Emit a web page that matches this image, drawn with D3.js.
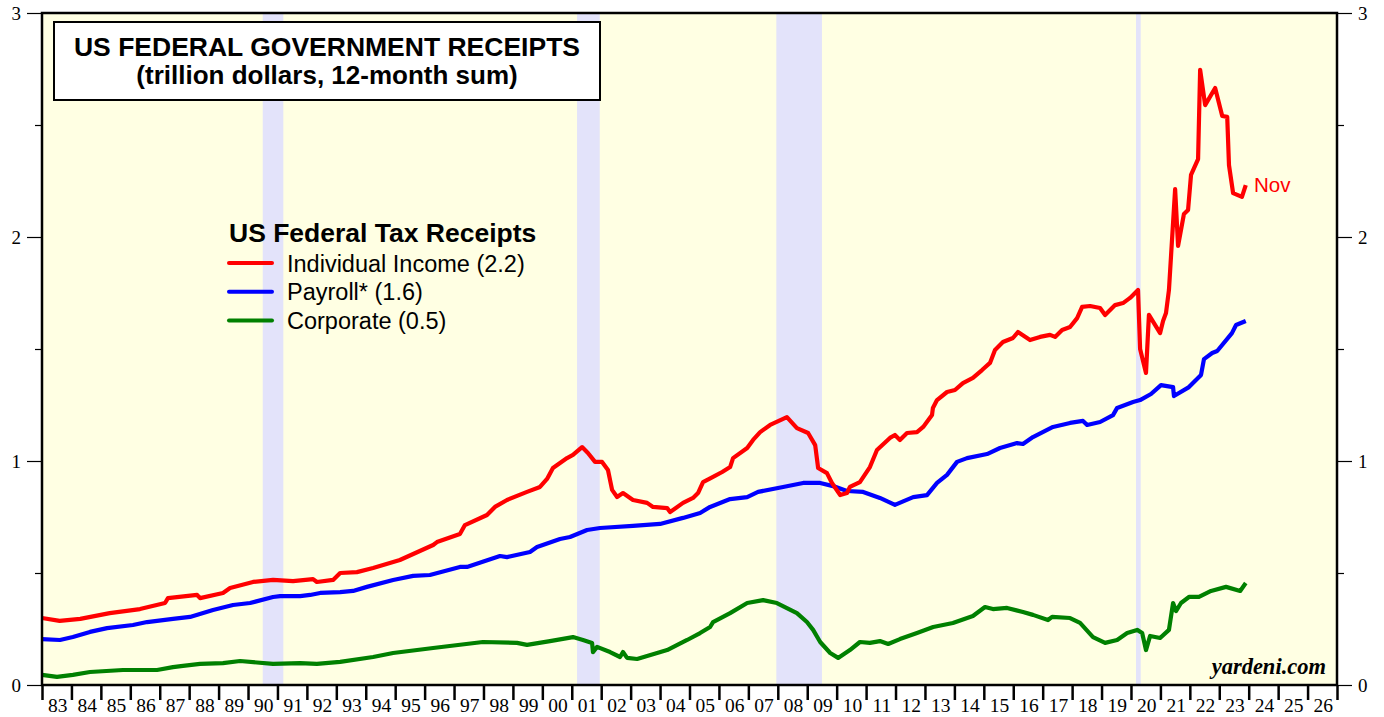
<!DOCTYPE html>
<html>
<head>
<meta charset="utf-8">
<script src="https://cdn.jsdelivr.net/npm/d3@7"></script>
<style>
  body { margin: 0; background: #fff; }
  svg { display: block; }
</style>
</head>
<body>
<div id="chart"></div>
<script>
// values: [year, trillion $]
var individual = [
  [1983.0, 0.299], [1983.6, 0.286], [1984.3, 0.295], [1985.3, 0.321], [1986.33, 0.339],
  [1987.18, 0.366], [1987.28, 0.388], [1988.27, 0.402], [1988.37, 0.388], [1989.15, 0.411],
  [1989.39, 0.433], [1990.17, 0.460], [1990.85, 0.469], [1991.53, 0.464], [1992.21, 0.473],
  [1992.34, 0.460], [1992.89, 0.469], [1993.13, 0.500], [1993.70, 0.504], [1994.25, 0.522],
  [1995.16, 0.558], [1996.29, 0.625], [1996.42, 0.638], [1997.20, 0.674], [1997.37, 0.714],
  [1998.12, 0.759], [1998.39, 0.795], [1998.80, 0.826], [1999.48, 0.862], [1999.92, 0.884],
  [2000.16, 0.920], [2000.36, 0.969], [2000.84, 1.013], [2001.04, 1.027], [2001.35, 1.062],
  [2001.55, 1.036], [2001.79, 0.996], [2002.03, 0.996], [2002.23, 0.960], [2002.37, 0.871],
  [2002.54, 0.839], [2002.74, 0.857], [2003.08, 0.826], [2003.56, 0.813], [2003.76, 0.795],
  [2004.24, 0.790], [2004.34, 0.772], [2004.78, 0.813], [2005.12, 0.835], [2005.29, 0.857],
  [2005.46, 0.906], [2005.80, 0.929], [2006.11, 0.951], [2006.38, 0.973], [2006.48, 1.013],
  [2006.96, 1.058], [2007.16, 1.094], [2007.40, 1.129], [2007.74, 1.161], [2008.31, 1.196],
  [2008.65, 1.147], [2009.03, 1.125], [2009.27, 1.071], [2009.37, 0.969], [2009.67, 0.946],
  [2009.84, 0.902], [2010.12, 0.848], [2010.35, 0.857], [2010.45, 0.884], [2010.79, 0.906],
  [2011.13, 0.973], [2011.37, 1.049], [2011.81, 1.103], [2011.98, 1.116], [2012.15, 1.094],
  [2012.39, 1.125], [2012.73, 1.129], [2012.94, 1.152], [2013.24, 1.205], [2013.27, 1.237],
  [2013.41, 1.272], [2013.75, 1.308], [2014.02, 1.317], [2014.29, 1.348], [2014.63, 1.371],
  [2014.94, 1.406], [2015.21, 1.438], [2015.38, 1.496], [2015.65, 1.531], [2015.99, 1.549],
  [2016.16, 1.576], [2016.57, 1.540], [2016.91, 1.554], [2017.25, 1.563], [2017.42, 1.554],
  [2017.66, 1.585], [2017.93, 1.598], [2018.17, 1.638], [2018.34, 1.688], [2018.61, 1.692],
  [2018.95, 1.683], [2019.12, 1.652], [2019.46, 1.696], [2019.73, 1.705], [2019.97, 1.728],
  [2020.24, 1.763], [2020.31, 1.500], [2020.51, 1.393], [2020.61, 1.652], [2020.99, 1.571],
  [2021.09, 1.625], [2021.19, 1.661], [2021.29, 1.763], [2021.50, 2.214], [2021.60, 1.960],
  [2021.80, 2.103], [2021.94, 2.121], [2022.04, 2.277], [2022.28, 2.348], [2022.35, 2.746],
  [2022.52, 2.589], [2022.86, 2.665], [2023.10, 2.540], [2023.27, 2.536], [2023.33, 2.321],
  [2023.47, 2.196], [2023.77, 2.179], [2023.90, 2.232]
];

var payroll = [
  [1983.0, 0.205], [1983.61, 0.201], [1984.05, 0.214], [1984.63, 0.237], [1985.21, 0.254],
  [1986.09, 0.268], [1986.57, 0.281], [1987.45, 0.295], [1988.03, 0.304], [1988.81, 0.335],
  [1989.49, 0.357], [1990.07, 0.366], [1990.85, 0.393], [1991.09, 0.397], [1991.77, 0.397],
  [1992.11, 0.402], [1992.45, 0.411], [1993.13, 0.415], [1993.57, 0.420], [1994.04, 0.438],
  [1994.93, 0.469], [1995.61, 0.487], [1996.18, 0.491], [1997.20, 0.527], [1997.44, 0.527],
  [1998.56, 0.576], [1998.80, 0.571], [1999.58, 0.594], [1999.82, 0.616], [2000.60, 0.652],
  [2000.94, 0.661], [2001.52, 0.692], [2001.96, 0.701], [2003.08, 0.710], [2004.00, 0.719],
  [2004.78, 0.746], [2005.36, 0.768], [2005.70, 0.795], [2006.38, 0.830], [2006.96, 0.839],
  [2007.33, 0.862], [2008.18, 0.884], [2008.86, 0.902], [2009.44, 0.902], [2009.88, 0.888],
  [2010.35, 0.866], [2010.90, 0.862], [2011.47, 0.835], [2011.98, 0.804], [2012.60, 0.839],
  [2013.07, 0.848], [2013.41, 0.902], [2013.75, 0.938], [2014.09, 0.996], [2014.43, 1.013],
  [2015.11, 1.031], [2015.55, 1.058], [2016.13, 1.080], [2016.33, 1.076], [2016.67, 1.107],
  [2017.35, 1.152], [2017.93, 1.170], [2018.37, 1.179], [2018.51, 1.161], [2018.95, 1.174],
  [2019.39, 1.205], [2019.53, 1.237], [2020.07, 1.263], [2020.31, 1.272], [2020.68, 1.299],
  [2021.02, 1.339], [2021.43, 1.330], [2021.46, 1.290], [2021.97, 1.330], [2022.38, 1.384],
  [2022.48, 1.455], [2022.76, 1.482], [2022.93, 1.491], [2023.43, 1.571], [2023.57, 1.607],
  [2023.90, 1.625]
];

var corporate = [
  [1983.0, 0.045], [1983.51, 0.036], [1984.05, 0.045], [1984.63, 0.058], [1985.75, 0.067],
  [1986.91, 0.067], [1987.45, 0.080], [1987.79, 0.085], [1988.37, 0.094], [1989.15, 0.098],
  [1989.73, 0.107], [1990.85, 0.094], [1991.77, 0.098], [1992.34, 0.094], [1993.13, 0.103],
  [1994.25, 0.125], [1994.93, 0.143], [1996.29, 0.165], [1997.98, 0.192], [1999.14, 0.188],
  [1999.48, 0.179], [2000.26, 0.196], [2001.04, 0.214], [2001.38, 0.201], [2001.69, 0.188],
  [2001.72, 0.147], [2001.86, 0.170], [2002.30, 0.147], [2002.64, 0.125], [2002.74, 0.147],
  [2002.88, 0.121], [2003.22, 0.116], [2004.24, 0.156], [2004.92, 0.201], [2005.36, 0.232],
  [2005.70, 0.259], [2005.80, 0.281], [2006.38, 0.321], [2006.96, 0.366], [2007.50, 0.379],
  [2007.97, 0.366], [2008.65, 0.321], [2008.99, 0.281], [2009.20, 0.246], [2009.44, 0.192],
  [2009.78, 0.143], [2010.05, 0.121], [2010.45, 0.156], [2010.79, 0.192], [2011.13, 0.188],
  [2011.47, 0.196], [2011.75, 0.183], [2012.15, 0.205], [2012.73, 0.232], [2013.28, 0.259],
  [2013.95, 0.277], [2014.63, 0.308], [2015.04, 0.348], [2015.31, 0.339], [2015.79, 0.344],
  [2016.33, 0.326], [2016.67, 0.313], [2017.18, 0.290], [2017.32, 0.304], [2017.93, 0.299],
  [2018.27, 0.277], [2018.71, 0.214], [2019.12, 0.188], [2019.53, 0.201], [2019.87, 0.232],
  [2020.21, 0.246], [2020.38, 0.232], [2020.51, 0.156], [2020.65, 0.219], [2020.99, 0.210],
  [2021.29, 0.246], [2021.43, 0.366], [2021.53, 0.330], [2021.70, 0.366], [2021.97, 0.393],
  [2022.31, 0.393], [2022.72, 0.420], [2023.23, 0.438], [2023.71, 0.420], [2023.90, 0.455]
];

var recessions = [[1990.5, 1991.2], [2001.18, 2001.95], [2007.95, 2009.5], [2020.17, 2020.33]];

var yearTicks = d3.range(1983, 2028);
var yMajor = [0, 1, 2, 3];
var yMinor = [0.5, 1.5, 2.5];

var legendLabels = ["Individual Income (2.2)", "Payroll* (1.6)", "Corporate (0.5)"];
var legendColors = ["#ff0000", "#0000ff", "#008000"];

var W = 1384, H = 717;
var plotL = 42, plotR = 1337, plotT = 13, plotB = 685;
var sans = "Liberation Sans, Arial, sans-serif";
var serif = "Liberation Serif, Times New Roman, serif";

var svg = d3.select("#chart").append("svg")
    .attr("width", W)
    .attr("height", H);

var x = d3.scaleLinear().domain([1983, 2027]).range([plotL, plotR]);
var y = d3.scaleLinear().domain([0, 3]).range([plotB, plotT]);

// plot background
svg.append("rect")
    .attr("x", plotL).attr("y", plotT)
    .attr("width", plotR - plotL).attr("height", plotB - plotT)
    .attr("fill", "#ffffe3");

svg.selectAll("rect.rec")
    .data(recessions)
  .enter().append("rect")
    .attr("class", "rec")
    .attr("x", function(d) { return x(d[0]); })
    .attr("y", plotT)
    .attr("width", function(d) { return x(d[1]) - x(d[0]); })
    .attr("height", plotB - plotT)
    .attr("fill", "#e3e3fa");

// title box
svg.append("rect")
    .attr("x", 54).attr("y", 22)
    .attr("width", 546).attr("height", 78)
    .attr("fill", "#fff")
    .attr("stroke", "#000")
    .attr("stroke-width", 2);

svg.append("text")
    .attr("x", 327).attr("y", 56)
    .attr("text-anchor", "middle")
    .style("font-family", sans)
    .style("font-weight", "bold")
    .style("font-size", "26.5px")
    .text("US FEDERAL GOVERNMENT RECEIPTS");

svg.append("text")
    .attr("x", 327).attr("y", 84)
    .attr("text-anchor", "middle")
    .style("font-family", sans)
    .style("font-weight", "bold")
    .style("font-size", "26px")
    .text("(trillion dollars, 12-month sum)");

// series
var line = d3.line()
    .x(function(d) { return x(d[0]); })
    .y(function(d) { return y(d[1]); });

[corporate, payroll, individual].forEach(function(s, i) {
  svg.append("path")
      .datum(s)
      .attr("d", line)
      .attr("fill", "none")
      .attr("stroke", legendColors[2 - i])
      .attr("stroke-width", 4.2)
      .attr("stroke-linejoin", "round");
});

svg.append("text")
    .attr("x", 1254).attr("y", 192)
    .attr("fill", "#ff0000")
    .style("font-family", sans)
    .style("font-size", "20.5px")
    .text("Nov");

// legend
var lg = svg.append("g");
lg.append("text")
    .attr("x", 229).attr("y", 242)
    .style("font-family", sans)
    .style("font-weight", "bold")
    .style("font-size", "26.5px")
    .text("US Federal Tax Receipts");

legendLabels.forEach(function(lbl, i) {
  var ly = 263 + i * 28.7;
  lg.append("line")
      .attr("x1", 229).attr("x2", 272)
      .attr("y1", ly).attr("y2", ly)
      .attr("stroke", legendColors[i])
      .attr("stroke-width", 4)
      .attr("stroke-linecap", "round");
  lg.append("text")
      .attr("x", 287).attr("y", ly + 8.5)
      .style("font-family", sans)
      .style("font-size", "23.5px")
      .text(lbl);
});

svg.append("text")
    .attr("x", 1326).attr("y", 674)
    .attr("text-anchor", "end")
    .style("font-family", serif)
    .style("font-weight", "bold")
    .style("font-style", "italic")
    .style("font-size", "22.5px")
    .text("yardeni.com");

// frame
svg.append("rect")
    .attr("x", plotL).attr("y", plotT)
    .attr("width", plotR - plotL).attr("height", plotB - plotT)
    .attr("fill", "none")
    .attr("stroke", "#000")
    .attr("stroke-width", 2.5);

// axes
var yLeft = d3.axisLeft(y).tickValues(yMajor).tickSize(15).tickPadding(6).tickFormat(d3.format("d"));
var yRight = d3.axisRight(y).tickValues(yMajor).tickSize(15).tickPadding(6).tickFormat(d3.format("d"));

var gl = svg.append("g").attr("transform", "translate(" + plotL + ",0)").call(yLeft);
var gr = svg.append("g").attr("transform", "translate(" + plotR + ",0)").call(yRight);
[gl, gr].forEach(function(g) {
  g.select(".domain").remove();
  g.selectAll("line").attr("stroke", "#000").attr("stroke-width", 1.2);
  g.selectAll("text").style("font-family", serif).style("font-size", "19px").attr("fill", "#000");
});

var gl2 = svg.append("g").attr("transform", "translate(" + plotL + ",0)")
    .call(d3.axisLeft(y).tickValues(yMinor).tickSize(7).tickFormat(""));
var gr2 = svg.append("g").attr("transform", "translate(" + plotR + ",0)")
    .call(d3.axisRight(y).tickValues(yMinor).tickSize(7).tickFormat(""));
[gl2, gr2].forEach(function(g) {
  g.select(".domain").remove();
  g.selectAll("line").attr("stroke", "#000").attr("stroke-width", 1.2);
});

var gx = svg.append("g").attr("transform", "translate(0," + plotB + ")")
    .call(d3.axisBottom(x).tickValues(yearTicks).tickSize(15).tickFormat(""));
gx.select(".domain").remove();
gx.selectAll("line").attr("stroke", "#000").attr("stroke-width", 2.5);

svg.append("g").selectAll("text")
    .data(yearTicks.slice(0, -1))
  .enter().append("text")
    .attr("x", function(d) { return x(d + 0.5) + 1; })
    .attr("y", 712)
    .attr("text-anchor", "middle")
    .style("font-family", serif)
    .style("font-size", "19.5px")
    .text(function(d) { return d3.format("02d")(d % 100); });
</script>
</body>
</html>
